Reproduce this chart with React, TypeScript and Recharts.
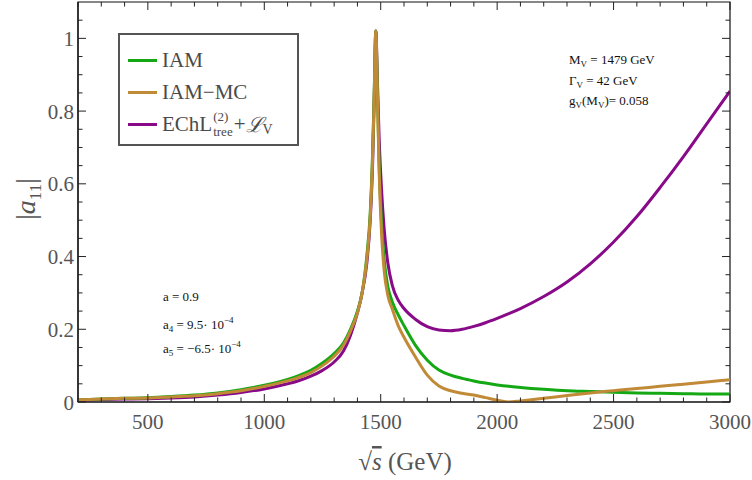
import React from "react";
import { LineChart, Line, XAxis, YAxis, ReferenceArea } from "recharts";

// ---- data ----
const energies = [200, 300, 400, 500, 600, 700, 800, 900, 1000, 1100, 1150, 1200, 1250, 1300, 1340, 1370, 1400, 1420, 1440, 1455, 1465, 1472, 1479, 1486, 1493, 1503, 1515, 1530, 1550, 1575, 1600, 1650, 1700, 1750, 1800, 1850, 1900, 1950, 2000, 2050, 2100, 2200, 2300, 2400, 2500, 2600, 2700, 2800, 2900, 3000];
const iam = [0.006, 0.008, 0.010, 0.012, 0.015, 0.019, 0.025, 0.034, 0.046, 0.062, 0.073, 0.087, 0.107, 0.133, 0.162, 0.200, 0.250, 0.300, 0.400, 0.520, 0.680, 0.850, 1.020, 0.850, 0.660, 0.500, 0.390, 0.320, 0.275, 0.240, 0.210, 0.155, 0.115, 0.088, 0.074, 0.065, 0.058, 0.052, 0.047, 0.043, 0.040, 0.035, 0.031, 0.029, 0.027, 0.025, 0.024, 0.023, 0.022, 0.022];
const iamMC = [0.006, 0.008, 0.010, 0.011, 0.014, 0.017, 0.023, 0.031, 0.043, 0.058, 0.068, 0.081, 0.100, 0.126, 0.156, 0.195, 0.245, 0.300, 0.390, 0.510, 0.670, 0.840, 1.020, 0.840, 0.640, 0.470, 0.360, 0.295, 0.255, 0.210, 0.178, 0.123, 0.074, 0.044, 0.031, 0.024, 0.019, 0.012, 0.005, 0.000, 0.003, 0.010, 0.018, 0.025, 0.031, 0.037, 0.043, 0.049, 0.055, 0.061];
const echl = [0.005, 0.007, 0.008, 0.009, 0.011, 0.014, 0.019, 0.026, 0.036, 0.050, 0.059, 0.071, 0.087, 0.110, 0.140, 0.183, 0.245, 0.300, 0.380, 0.500, 0.650, 0.830, 1.020, 0.880, 0.730, 0.590, 0.475, 0.385, 0.320, 0.280, 0.257, 0.227, 0.207, 0.198, 0.196, 0.200, 0.208, 0.218, 0.230, 0.243, 0.257, 0.290, 0.330, 0.380, 0.440, 0.510, 0.590, 0.675, 0.765, 0.855];

const xTicks = [200, 300, 400, 500, 600, 700, 800, 900, 1000, 1100, 1200, 1300, 1400, 1500, 1600, 1700, 1800, 1900, 2000, 2100, 2200, 2300, 2400, 2500, 2600, 2700, 2800, 2900, 3000];
const xMajorTicks = [500, 1000, 1500, 2000, 2500, 3000];
const yTicks = [0, 0.05, 0.1, 0.15, 0.2, 0.25, 0.3, 0.35, 0.4, 0.45, 0.5, 0.55, 0.6, 0.65, 0.7, 0.75, 0.8, 0.85, 0.9, 0.95, 1, 1.05];
const yMajorTicks = [0, 0.2, 0.4, 0.6, 0.8, 1];

const data = energies.map((e, i) => ({ e, iam: iam[i], mc: iamMC[i], echl: echl[i] }));

// ---- layout ----
const W = 752;
const H = 480;
const PL = 78;
const PR = 730;
const PT = 2;
const PB = 402;
const SERIF = "'Liberation Serif', 'Times New Roman', 'DejaVu Serif', serif";
const GREEN = "#14a814";
const ORANGE = "#c08a36";
const PURPLE = "#880a88";
const serifStyle: React.CSSProperties = { fontFamily: SERIF };

const isMajor = (v: number, list: number[]) => list.some((m) => Math.abs(m - v) < 1e-6);

const XTick = (props: any) => {
  const { x, payload } = props;
  const v = payload.value;
  const major = isMajor(v, xMajorTicks);
  const len = major ? 8 : 4.5;
  return (
    <g>
      <line x1={x} x2={x} y1={PB} y2={PB - len} stroke="#222" strokeWidth={1} />
      <line x1={x} x2={x} y1={PT} y2={PT + len} stroke="#222" strokeWidth={1} />
      {major && (
        <text x={x} y={429} textAnchor="middle" fontSize={21} style={serifStyle} fill="#555">
          {String(v)}
        </text>
      )}
    </g>
  );
};

const YTick = (props: any) => {
  const { y, payload } = props;
  const v = payload.value;
  const major = isMajor(v, yMajorTicks);
  const len = major ? 8 : 4.5;
  return (
    <g>
      <line x1={PL} x2={PL + len} y1={y} y2={y} stroke="#222" strokeWidth={1} />
      <line x1={PR} x2={PR - len} y1={y} y2={y} stroke="#222" strokeWidth={1} />
      {major && (
        <text x={PL - 4} y={y} dy="0.36em" textAnchor="end" fontSize={21} style={serifStyle} fill="#555">
          {String(v)}
        </text>
      )}
    </g>
  );
};

const YTitle = () => (
  <text
    x={25}
    y={199}
    transform="rotate(-90 25 199)"
    textAnchor="middle"
    dy="0.35em"
    fontSize={28}
    style={serifStyle}
    fill="#555"
  >
    |<tspan fontStyle="italic">a</tspan>
    <tspan fontSize={17} dy={6}>11</tspan>
    <tspan dy={-6}>|</tspan>
  </text>
);

const XTitle = () => (
  <text x={405} y={470} textAnchor="middle" fontSize={25} style={serifStyle} fill="#555">
    √<tspan fontStyle="italic" textDecoration="overline">s</tspan> (GeV)
  </text>
);

const legendItems = [
  { color: GREEN, label: <span>IAM</span> },
  { color: ORANGE, label: <span>IAM−MC</span> },
  {
    color: PURPLE,
    label: (
      <span style={{ display: "inline-flex", alignItems: "center" }}>
        EChL
        <span style={{ display: "inline-flex", flexDirection: "column", fontSize: 13, lineHeight: "15px", margin: "0 1px" }}>
          <span>(2)</span>
          <span>tree</span>
        </span>
        +<span style={{ fontStyle: "italic" }}>ℒ</span>
        <span style={{ fontSize: 14, position: "relative", top: 6 }}>V</span>
      </span>
    ),
  },
];

const annoStyle: React.CSSProperties = {
  position: "absolute",
  fontFamily: SERIF,
  fontSize: 13,
  color: "#111",
  whiteSpace: "nowrap",
  lineHeight: "14px",
};
const sub: React.CSSProperties = { fontSize: 9, verticalAlign: "-3px" };
const sup: React.CSSProperties = { fontSize: 9, verticalAlign: "6px" };

export default function App() {
  return (
    <div style={{ position: "absolute", left: 0, top: 0, width: W, height: H, background: "#fff", fontFamily: SERIF }}>
      <LineChart width={W} height={H} data={data} margin={{ top: PT, right: W - PR, left: 0, bottom: 0 }} style={serifStyle}>
        <XAxis
          dataKey="e"
          type="number"
          domain={[200, 3000]}
          ticks={xTicks}
          interval={0}
          allowDataOverflow
          height={H - PB}
          tickSize={0}
          tickMargin={0}
          tickLine={false}
          axisLine={{ stroke: "#111", strokeWidth: 1.2 }}
          tick={<XTick />}
          label={<XTitle />}
        />
        <YAxis
          type="number"
          domain={[0, 1.1]}
          ticks={yTicks}
          interval={0}
          allowDataOverflow
          width={PL}
          tickSize={0}
          tickMargin={0}
          tickLine={false}
          axisLine={{ stroke: "#111", strokeWidth: 1.2 }}
          tick={<YTick />}
          label={<YTitle />}
        />
        <ReferenceArea x1={200} x2={3000} y1={0} y2={1.1} fill="none" fillOpacity={0} stroke="#111" strokeWidth={1.2} />
        <Line dataKey="echl" type="monotone" stroke={PURPLE} strokeWidth={3} dot={false} isAnimationActive={false} />
        <Line dataKey="iam" type="monotone" stroke={GREEN} strokeWidth={3} dot={false} isAnimationActive={false} />
        <Line dataKey="mc" type="monotone" stroke={ORANGE} strokeWidth={3} dot={false} isAnimationActive={false} />
      </LineChart>

      <div
        style={{
          position: "absolute",
          left: 118,
          top: 33,
          width: 181,
          height: 113,
          boxSizing: "border-box",
          border: "2px solid #555",
          background: "#fff",
          fontFamily: SERIF,
          fontSize: 21,
          color: "#4a4a4a",
        }}
      >
        {legendItems.map((it, i) => (
          <div
            key={i}
            style={{ position: "absolute", left: 8, top: [10, 42, 74][i], height: 30, display: "flex", alignItems: "center" }}
          >
            <div style={{ width: 29, height: 3, background: it.color, marginRight: 5 }} />
            {it.label}
          </div>
        ))}
      </div>

      <div style={{ ...annoStyle, left: 569, top: 53 }}>
        M<span style={sub}>V</span> = 1479 GeV
      </div>
      <div style={{ ...annoStyle, left: 569, top: 74 }}>
        Γ<span style={sub}>V</span> = 42 GeV
      </div>
      <div style={{ ...annoStyle, left: 569, top: 94 }}>
        g<span style={sub}>V</span>(M<span style={sub}>V</span>)= 0.058
      </div>

      <div style={{ ...annoStyle, left: 163, top: 290 }}>a = 0.9</div>
      <div style={{ ...annoStyle, left: 163, top: 313 }}>
        a<span style={sub}>4</span> = 9.5· 10<span style={sup}>−4</span>
      </div>
      <div style={{ ...annoStyle, left: 163, top: 337 }}>
        a<span style={sub}>5</span> = −6.5· 10<span style={sup}>−4</span>
      </div>
    </div>
  );
}
